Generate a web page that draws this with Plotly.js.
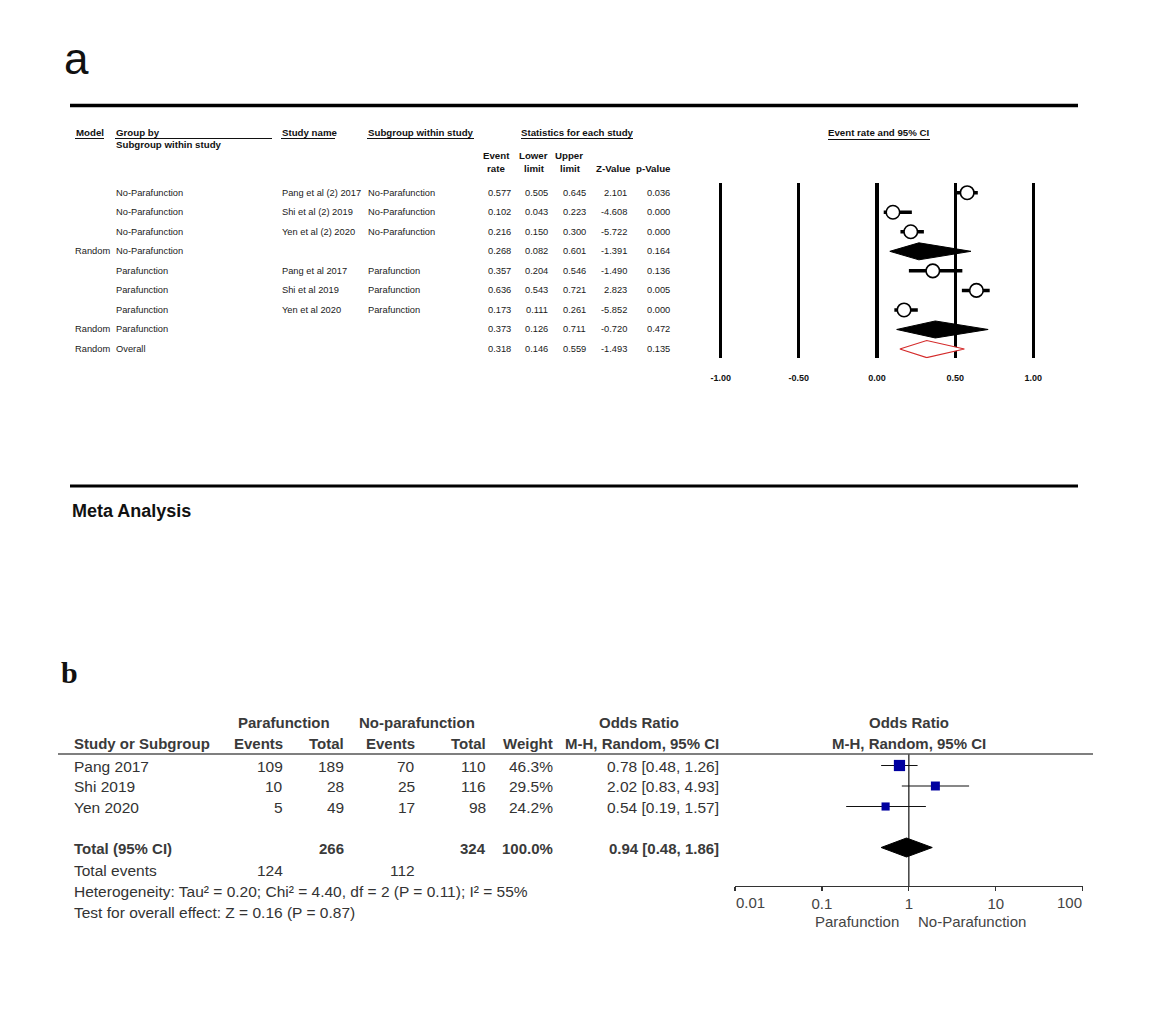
<!DOCTYPE html>
<html>
<head>
<meta charset="utf-8">
<script src="https://cdn.plot.ly/plotly-3.0.1.min.js"></script>
<style>html,body{margin:0;padding:0;background:#fff;}#chart{width:1151px;height:1030px;}</style>
</head>
<body>
<div id="chart"></div>
<script>
// ---------- Panel a data ----------
var modelCol   = ['', '', '', 'Random', '', '', '', 'Random', 'Random'];
var groupCol   = ['No-Parafunction','No-Parafunction','No-Parafunction','No-Parafunction','Parafunction','Parafunction','Parafunction','Parafunction','Overall'];
var studyName  = ['Pang et al (2) 2017','Shi et al (2) 2019','Yen et al (2) 2020','','Pang et al 2017','Shi et al 2019','Yen et al 2020','',''];
var subgroupCol= ['No-Parafunction','No-Parafunction','No-Parafunction','','Parafunction','Parafunction','Parafunction','',''];
var rowType    = ['study','study','study','subtotal','study','study','study','subtotal','overall'];
var eventRate  = [0.577,0.102,0.216,0.268,0.357,0.636,0.173,0.373,0.318];
var lowerLimit = [0.505,0.043,0.150,0.082,0.204,0.543,0.111,0.126,0.146];
var upperLimit = [0.645,0.223,0.300,0.601,0.546,0.721,0.261,0.711,0.559];
var zValue     = [2.101,-4.608,-5.722,-1.391,-1.490,2.823,-5.852,-0.720,-1.493];
var pValue     = [0.036,0.000,0.000,0.164,0.136,0.005,0.000,0.472,0.135];
var aTickVals  = [-1.0,-0.5,0.0,0.5,1.0];
var aTickText  = ['-1.00','-0.50','0.00','0.50','1.00'];

// ---------- Panel b data ----------
var bStudies   = ['Pang 2017','Shi 2019','Yen 2020'];
var paraEvents = [109,10,5];
var paraTotal  = [189,28,49];
var noEvents   = [70,25,17];
var noTotal    = [110,116,98];
var weightPct  = [46.3,29.5,24.2];
var orEst      = [0.78,2.02,0.54];
var orLow      = [0.48,0.83,0.19];
var orHigh     = [1.26,4.93,1.57];
var totalOR    = [0.94,0.48,1.86];   // estimate, low, high
var totalPara  = 266, totalNo = 324, totalWeight = '100.0%';
var totalEventsPara = 124, totalEventsNo = 112;
var heterogeneity = 'Heterogeneity: Tau\u00b2 = 0.20; Chi\u00b2 = 4.40, df = 2 (P = 0.11); I\u00b2 = 55%';
var overallTest   = 'Test for overall effect: Z = 0.16 (P = 0.87)';
var bTickVals = [0.01,0.1,1,10,100];
var bTickText = ['0.01','0.1','1','10','100'];
var favourLabels = ['Parafunction','No-Parafunction'];
var nullOR = 1;

// ---------- helpers ----------
var W = 1151, H = 1030;
function PX(x){return x/W;}
function PY(y){return 1 - y/H;}
var FA = '"Liberation Sans", Arial, sans-serif';
var ann = [];
function txt(s, x, y, o){
  o = o || {};
  ann.push({text:s, x:PX(x), y:PY(y), xref:'paper', yref:'paper',
    xanchor:o.anchor||'left', yanchor:'middle', showarrow:false, borderpad:0,
    font:{family:o.family||FA, size:o.size||10, color:o.color||'#1a1a1a', weight:o.weight||'normal'}});
}
function C(o){return Object.assign({anchor:'center'}, o);}
function R(o){return Object.assign({anchor:'right'}, o);}
var shapes = [];
function hline(x0,x1,y,w,c){
  shapes.push({type:'line', xref:'paper', yref:'paper', x0:PX(x0), x1:PX(x1), y0:PY(y), y1:PY(y), line:{color:c||'#000', width:w||1}});
}

// ---------- Panel a layout text ----------
txt('a', 63, 58, {size:44, color:'#111'});
hline(70, 1078, 105.5, 3.5, '#000');
var hb = {size:9.7, weight:'bold', color:'#111'};
txt('Model', 75, 132, hb); hline(75, 104, 138.5, 1, '#111');
txt('Group by', 115, 132, hb); hline(115, 272, 138.5, 1, '#111');
txt('Subgroup within study', 115, 145, hb);
txt('Study name', 281, 132, hb); hline(281, 335, 138.5, 1, '#111');
txt('Subgroup within study', 367, 132, hb); hline(367, 474, 138.5, 1, '#111');
txt('Statistics for each study', 577, 132, C(hb)); hline(521, 633, 138.5, 1, '#111');
txt('Event rate and 95% CI', 879, 133, C(hb)); hline(828, 930, 139.5, 1, '#111');
txt('Event', 496, 156, C(hb));
txt('rate', 496, 168.5, C(hb));
txt('Lower', 533, 156, C(hb));
txt('limit', 534, 168.5, C(hb));
txt('Upper', 569, 156, C(hb));
txt('limit', 570, 168.5, C(hb));
txt('Z-Value', 613, 168.5, C(hb));
txt('p-Value', 653, 168.5, C(hb));

var aRow0 = 192.7, aStep = 19.54;
var rn = {size:9.3, color:'#1a1a1a'};
for (var i=0;i<eventRate.length;i++){
  var y = aRow0 + i*aStep;
  if (modelCol[i]) txt(modelCol[i], 74, y, rn);
  txt(groupCol[i], 115, y, rn);
  if (studyName[i]) txt(studyName[i], 281, y, rn);
  if (subgroupCol[i]) txt(subgroupCol[i], 367, y, rn);
  txt(eventRate[i].toFixed(3), 512, y, R(rn));
  txt(lowerLimit[i].toFixed(3), 549, y, R(rn));
  txt(upperLimit[i].toFixed(3), 587, y, R(rn));
  txt(zValue[i].toFixed(3), 628, y, R(rn));
  txt(pValue[i].toFixed(3), 671, y, R(rn));
}

hline(70, 1078, 486, 3, '#000');
txt('Meta Analysis', 70.5, 511, {size:18, weight:'bold', color:'#111'});

// ---------- Panel b layout text ----------
txt('b', 60, 672, {size:30, weight:'bold', family:'"Liberation Serif", "Times New Roman", serif', color:'#111'});
var bh = {size:15, weight:'bold', color:'#3a3a3a'};
var bn = {size:15.5, color:'#333'};
txt('Parafunction', 284, 722, C(bh));
txt('No-parafunction', 417, 722, C(bh));
txt('Odds Ratio', 639, 722, C(bh));
txt('Odds Ratio', 909, 722, C(bh));
txt('Study or Subgroup', 73, 743.5, bh);
txt('Events', 283.5, 743.5, R(bh));
txt('Total', 345, 743.5, R(bh));
txt('Events', 416, 743.5, R(bh));
txt('Total', 487, 743.5, R(bh));
txt('Weight', 553.5, 743.5, R(bh));
txt('M-H, Random, 95% CI', 720, 743.5, R(bh));
txt('M-H, Random, 95% CI', 909, 743.5, C(bh));
hline(58, 1093, 754, 1.5, '#555');

var bRow0 = 765.5, bStep = 20.5;
for (var j=0;j<bStudies.length;j++){
  var yb = bRow0 + j*bStep + 0.7;
  txt(bStudies[j], 73, yb, bn);
  txt(String(paraEvents[j]), 283.5, yb, R(bn));
  txt(String(paraTotal[j]), 345, yb, R(bn));
  txt(String(noEvents[j]), 416, yb, R(bn));
  txt(String(noTotal[j]), 487, yb, R(bn));
  txt(weightPct[j].toFixed(1)+'%', 553.5, yb, R(bn));
  txt(orEst[j].toFixed(2)+' ['+orLow[j].toFixed(2)+', '+orHigh[j].toFixed(2)+']', 720, yb, R(bn));
}
var yt = bRow0 + 4*bStep + 0.7;
txt('Total (95% CI)', 73, yt, bh);
txt(String(totalPara), 345, yt, R(bh));
txt(String(totalNo), 487, yt, R(bh));
txt(totalWeight, 553.5, yt, R(bh));
txt(totalOR[0].toFixed(2)+' ['+totalOR[1].toFixed(2)+', '+totalOR[2].toFixed(2)+']', 720, yt, R(bh));
txt('Total events', 73, 870, bn);
txt(String(totalEventsPara), 283.5, 870, R(bn));
txt(String(totalEventsNo), 416, 870, R(bn));
txt(heterogeneity, 73, 891.5, bn);
txt(overallTest, 73, 912.5, bn);
txt(favourLabels[0], 857, 921, C({size:15, color:'#444'}));
txt(favourLabels[1], 972, 921, C({size:15, color:'#444'}));

// end tick labels of the log axis sit inside the axis ends (RevMan style)
var tickFontB = {family:FA, size:15, color:'#444'};
ann.push({text:bTickText[0], x:Math.log10(bTickVals[0]), xref:'x2', y:PY(902), yref:'paper', xanchor:'left', yanchor:'middle', showarrow:false, borderpad:0, font:tickFontB});
ann.push({text:bTickText[bTickText.length-1], x:Math.log10(bTickVals[bTickVals.length-1]), xref:'x2', y:PY(902), yref:'paper', xanchor:'right', yanchor:'middle', showarrow:false, borderpad:0, font:tickFontB});
var bTickTextShown = bTickText.map(function(t,ii){return (ii===0||ii===bTickText.length-1)?'':t;});

// ---------- Panel a traces ----------
var traces = [];
var ciX = [], ciY = [], ptX = [], ptY = [];
var hA = 0.435;
for (var k=0;k<eventRate.length;k++){
  var r = k+1;
  if (rowType[k]==='study'){
    ciX.push(lowerLimit[k], upperLimit[k], null); ciY.push(r, r, null);
    ptX.push(eventRate[k]); ptY.push(r);
  } else {
    var isOverall = rowType[k]==='overall';
    traces.push({type:'scatter', mode:'lines', xaxis:'x', yaxis:'y', hoverinfo:'skip',
      x:[lowerLimit[k], eventRate[k], upperLimit[k], eventRate[k], lowerLimit[k]],
      y:[r, r-hA, r, r+hA, r], fill:'toself',
      fillcolor: isOverall ? 'rgba(255,255,255,1)' : '#000',
      line:{color: isOverall ? '#d42a2a' : '#000', width: isOverall ? 1.2 : 1}});
  }
}
traces.push({type:'scatter', mode:'lines', xaxis:'x', yaxis:'y', x:ciX, y:ciY, line:{color:'#000', width:3.5}, hoverinfo:'skip'});
traces.push({type:'scatter', mode:'markers', xaxis:'x', yaxis:'y', x:ptX, y:ptY, cliponaxis:false,
  marker:{symbol:'circle', size:13.5, color:'#fff', line:{color:'#000', width:1.6}}});

// ---------- Panel b traces ----------
var bciX = [], bciY = [], bRows = [];
for (var m=0;m<bStudies.length;m++){
  bciX.push(orLow[m], orHigh[m], null); bciY.push(m+1, m+1, null); bRows.push(m+1);
}
traces.push({type:'scatter', mode:'lines', xaxis:'x2', yaxis:'y2', x:bciX, y:bciY, line:{color:'#111', width:1.2}, hoverinfo:'skip'});
traces.push({type:'scatter', mode:'markers', xaxis:'x2', yaxis:'y2', x:orEst, y:bRows, cliponaxis:false,
  marker:{symbol:'square', color:'#0000a0', opacity:1, size:weightPct.map(function(w){return 1.65*Math.sqrt(w);}), line:{width:0}}});
var hB = 0.463, totRow = 5;
traces.push({type:'scatter', mode:'lines', xaxis:'x2', yaxis:'y2', hoverinfo:'skip',
  x:[totalOR[1], totalOR[0], totalOR[2], totalOR[0], totalOR[1]],
  y:[totRow, totRow-hB, totRow, totRow+hB, totRow], fill:'toself', fillcolor:'#000', line:{color:'#000', width:1}});

shapes.push({type:'line', xref:'x2', yref:'paper', x0:nullOR, x1:nullOR, y0:PY(886), y1:PY(754), line:{color:'#111', width:1.2}, layer:'below'});

var layout = {
  width:W, height:H, margin:{l:0,r:0,t:0,b:0}, paper_bgcolor:'#fff', plot_bgcolor:'rgba(0,0,0,0)',
  showlegend:false,
  xaxis:{domain:[PX(700), PX(1060)], anchor:'y', range:[(700-877)/156.3, (1060-877)/156.3],
    tickvals:aTickVals, ticktext:aTickText, showgrid:true, gridcolor:'#000', gridwidth:3.2,
    zeroline:false, showline:false, ticks:'outside', ticklen:11, tickcolor:'rgba(0,0,0,0)',
    tickfont:{family:FA, size:9, weight:'bold', color:'#111'}, fixedrange:true},
  yaxis:{domain:[PY(358.3), PY(183)], anchor:'x', range:[1+(358.3-aRow0)/aStep, 1-(aRow0-183)/aStep],
    visible:false, fixedrange:true},
  xaxis2:{domain:[PX(735), PX(1082.7)], anchor:'y2', type:'log', range:[-2, 2],
    tickvals:bTickVals, ticktext:bTickTextShown, showgrid:false, zeroline:false, showline:true,
    linecolor:'#333', linewidth:1.2, ticks:'outside', ticklen:4, tickcolor:'#333', tickwidth:1.2,
    tickfont:tickFontB, fixedrange:true},
  yaxis2:{domain:[PY(886), PY(754)], anchor:'x2', range:[1+(886-bRow0)/bStep, 1-(bRow0-754)/bStep],
    visible:false, fixedrange:true},
  annotations:ann, shapes:shapes
};
Plotly.newPlot('chart', traces, layout, {displayModeBar:false, staticPlot:true});
</script>
</body>
</html>
